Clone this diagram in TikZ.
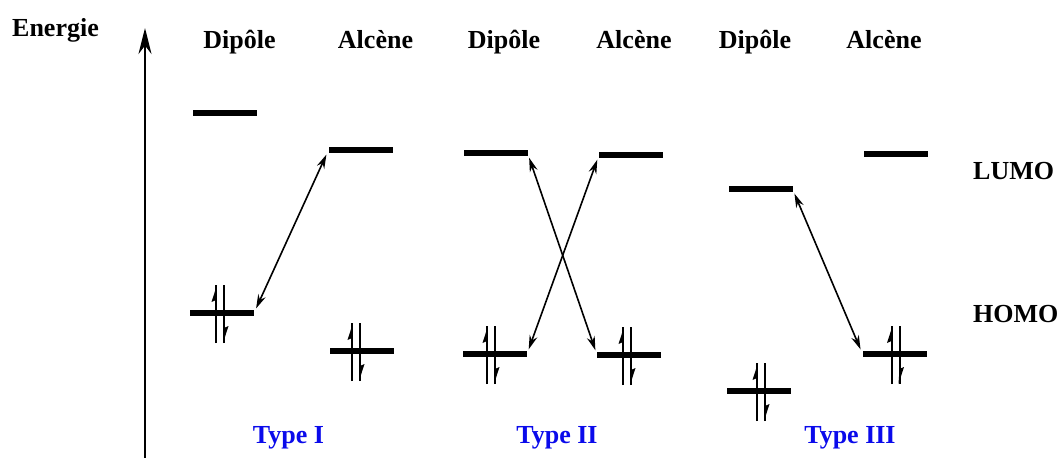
\documentclass[tikz,border=0pt]{standalone}
\usepackage{fontspec}
\setmainfont{Liberation Serif}
\usetikzlibrary{arrows.meta, positioning}
\definecolor{typeblue}{RGB}{10,10,235}

\begin{document}
\begin{tikzpicture}[x=1pt, y=-1pt,
	orbital/.style = {fill, inner sep=0pt, outer sep=0pt,
		minimum width=64pt, minimum height=5.5pt},
	title/.style = {font=\bfseries\fontsize{26}{30}\selectfont,
		inner sep=0pt, anchor=base},
	typetitle/.style = {title, text=typeblue},
	link/.style = {<->, >={Stealth[length=14pt,width=8pt]},
		line width=1.6pt, shorten >=5pt, shorten <=5pt},
	spins/.pic = {
		\draw[line width=2pt] (-4,30) -- (-4,-28);
		\fill (-3,-28) -- (-8.5,-11) -- (-4,-13) -- cycle;
		\draw[line width=2pt] (4,-28) -- (4,30);
		\fill (3,30) -- (8.5,13) -- (4,15) -- cycle;
	}]
	\useasboundingbox (0,0) rectangle (1058,458);
	% energy axis
	\coordinate (axisbot) at (145,458);
	\coordinate (axistop) at (145,28);
	\draw [-{Stealth[length=26pt,width=13pt]}, line width=2.2pt] (axisbot) -- (axistop);
	\node (energie) [title, anchor=base west] at (12,36) {Energie};
	% column titles
	\node (dip1) [title] at (239.5,48) {Dipôle};
	\node (alc1) [title] at (375.5,48) {Alcène};
	\node (dip2) [title] at (504,48) {Dipôle};
	\node (alc2) [title] at (634,48) {Alcène};
	\node (dip3) [title] at (755,48) {Dipôle};
	\node (alc3) [title] at (884,48) {Alcène};
	\node (lumo) [title, anchor=base west] at (973,179) {LUMO};
	\node (homo) [title, anchor=base west] at (973,322) {HOMO};
	% type I
	\node (dL1) [orbital] at (225,113) {};
	\node (aL1) [orbital] at (360.5,150) {};
	\node (dH1) [orbital] at (222,313) {};
	\node (aH1) [orbital] at (362,351) {};
	% type II
	\node (dL2) [orbital] at (495.5,153) {};
	\node (aL2) [orbital] at (631,155) {};
	\node (dH2) [orbital] at (495,354) {};
	\node (aH2) [orbital] at (629,355) {};
	% type III
	\node (dL3) [orbital] at (760.5,189) {};
	\node (aL3) [orbital] at (896,154) {};
	\node (dH3) [orbital] at (759,391) {};
	\node (aH3) [orbital] at (894.5,354) {};
	% electron pairs
	\foreach \n/\s in {dH1/-2, aH1/-6, dH2/-4, aH2/-2, dH3/2, aH3/1}
		\pic [xshift=\s pt] at (\n) {spins};
	\path [link]
	(dH1.east) edge (aL1.west)
	(dL2.east) edge (aH2.west)
	(aL2.west) edge (dH2.east)
	(dL3.east) edge (aH3.west);
	\node (type1) [typetitle] at (288.5,443) {Type I};
	\node (type2) [typetitle] at (557,443) {Type II};
	\node (type3) [typetitle] at (850,443) {Type III};
\end{tikzpicture}
\end{document}
